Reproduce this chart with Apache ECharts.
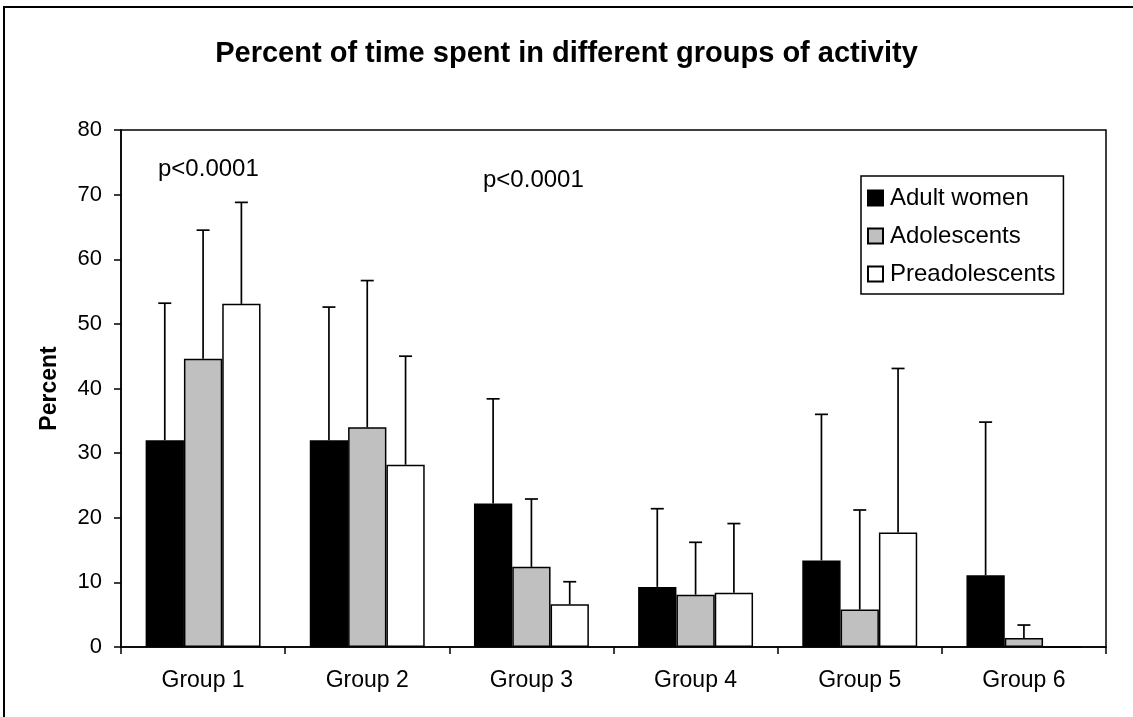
<!DOCTYPE html>
<html>
<head>
<meta charset="utf-8">
<script src="https://cdn.jsdelivr.net/npm/echarts@6/dist/echarts.min.js"></script>
<style>
html,body{margin:0;padding:0;background:#fff;}
#chart{width:1133px;height:717px;}
</style>
</head>
<body>
<div id="chart"></div>
<script>
const categories = ['Group 1', 'Group 2', 'Group 3', 'Group 4', 'Group 5', 'Group 6'];
const seriesNames = ['Adult women', 'Adolescents', 'Preadolescents'];
const adultWomen = [32.0, 32.0, 22.2, 9.3, 13.4, 11.1];
const adolescents = [44.6, 34.0, 12.4, 8.1, 5.8, 1.4];
const preadolescents = [53.1, 28.2, 6.6, 8.4, 17.7, 0];
const adultWomenSD = [21.2, 20.6, 16.2, 12.1, 22.6, 23.7];
const adolescentsSD = [19.9, 22.7, 10.5, 8.1, 15.4, 2.0];
const preadolescentsSD = [15.7, 16.8, 3.5, 10.7, 25.4, 0];
const yTicks = [0, 10, 20, 30, 40, 50, 60, 70, 80];
const titleText = 'Percent of time spent in different groups of activity';
const pValueNotes = ['p<0.0001', 'p<0.0001'];

const FONT = '"Liberation Sans", Arial, sans-serif';
const means = [adultWomen, adolescents, preadolescents];
const sds = [adultWomenSD, adolescentsSD, preadolescentsSD];
const fills = ['#000000', '#C0C0C0', '#FFFFFF'];
const CAT_GAP = 0.3;

const barSeries = seriesNames.map((name, i) => ({
  name: name,
  type: 'bar',
  data: means[i],
  barGap: '0%',
  barCategoryGap: (CAT_GAP * 100) + '%',
  itemStyle: { color: fills[i], borderColor: '#000', borderWidth: 1.5 },
  z: 2
}));

const errSeries = seriesNames.map((name, i) => ({
  name: name + ' SD',
  type: 'custom',
  z: 3,
  data: means[i].map((m, k) => [k, m, sds[i][k]]),
  renderItem: function (params, api) {
    const x = api.value(0), m = api.value(1), sd = api.value(2);
    if (!sd) return { type: 'group', children: [] };
    const base = api.coord([x, m]);
    const top = api.coord([x, m + sd]);
    const band = api.size([1, 0])[0];
    const bw = band * (1 - CAT_GAP) / 3;
    const cx = base[0] + (i - 1) * bw;
    const st = { stroke: '#000', lineWidth: 1.7 };
    return {
      type: 'group',
      children: [
        { type: 'line', shape: { x1: cx, y1: base[1], x2: cx, y2: top[1] }, style: st },
        { type: 'line', shape: { x1: cx - 6.5, y1: top[1], x2: cx + 6.5, y2: top[1] }, style: st }
      ]
    };
  }
}));

const chart = echarts.init(document.getElementById('chart'), null, { renderer: 'canvas' });
chart.setOption({
  backgroundColor: '#fff',
  animation: false,
  textStyle: { fontFamily: FONT },
  title: {
    text: titleText,
    left: 'center',
    top: 34,
    textStyle: { fontFamily: FONT, fontSize: 29, fontWeight: 'bold', color: '#000' }
  },
  legend: {
    data: seriesNames,
    orient: 'vertical',
    left: 861,
    top: 176,
    itemWidth: 15,
    itemHeight: 15,
    itemGap: 14,
    padding: [10, 8, 8, 6],
    borderColor: '#000',
    borderWidth: 1.5,
    backgroundColor: '#fff',
    icon: 'rect',
    textStyle: { fontFamily: FONT, fontSize: 24, color: '#000', padding: [0, 0, 0, 2] }
  },
  grid: {
    left: 121, top: 130, right: 27, bottom: 70,
    show: true, borderColor: '#000', borderWidth: 1.5, backgroundColor: '#fff'
  },
  xAxis: {
    type: 'category',
    data: categories,
    axisLine: { lineStyle: { color: '#000', width: 1.5 } },
    axisTick: { show: true, length: 7, lineStyle: { color: '#000', width: 1.5 } },
    axisLabel: { color: '#000', fontSize: 23, margin: 22, fontFamily: FONT },
    splitLine: { show: false }
  },
  yAxis: {
    type: 'value',
    min: yTicks[0],
    max: yTicks[yTicks.length - 1],
    interval: yTicks[1] - yTicks[0],
    name: 'Percent',
    nameLocation: 'middle',
    nameRotate: 90,
    nameGap: 60,
    nameTextStyle: { fontFamily: FONT, fontSize: 23, fontWeight: 'bold', color: '#000' },
    axisLine: { show: true, lineStyle: { color: '#000', width: 1.5 } },
    axisTick: { show: true, length: 7, lineStyle: { color: '#000', width: 1.5 } },
    axisLabel: { color: '#000', fontSize: 22, margin: 19, fontFamily: FONT },
    splitLine: { show: false }
  },
  graphic: [
    { type: 'rect', shape: { x: 4, y: 7, width: 1200, height: 800 }, style: { fill: 'none', stroke: '#000', lineWidth: 2 }, z: 100, silent: true },
    { type: 'text', x: 158, y: 169, style: { text: pValueNotes[0], font: '24px ' + FONT, fill: '#000', verticalAlign: 'middle' }, z: 50 },
    { type: 'text', x: 483, y: 180, style: { text: pValueNotes[1], font: '24px ' + FONT, fill: '#000', verticalAlign: 'middle' }, z: 50 }
  ],
  series: barSeries.concat(errSeries)
});
</script>
</body>
</html>
